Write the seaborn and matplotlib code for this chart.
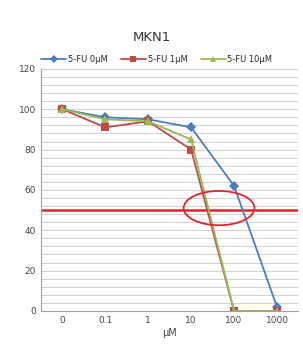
import pandas as pd
import matplotlib.pyplot as plt
import seaborn as sns
from matplotlib.patches import Ellipse

doses = ['0', '0.1', '1', '10', '100', '1000']
fu_0 = [100, 96, 95, 91, 62, 2]
fu_1 = [100, 91, 94, 80, 0, 0]
fu_10 = [100, 95, 94, 85, 0, 0]
series = ['5-FU 0µM', '5-FU 1µM', '5-FU 10µM']

rows = []
for name, vals in zip(series, [fu_0, fu_1, fu_10]):
    for i, v in enumerate(vals):
        rows.append({'pos': i, 'viability': v, 'series': name})
df = pd.DataFrame(rows)

sns.set_style('white')
plt.rcParams['font.family'] = ['DejaVu Sans']

fig = plt.figure(figsize=(3.03, 3.55), dpi=100)
ax = fig.add_axes([0.135, 0.124, 0.85, 0.682])

palette = {'5-FU 0µM': '#4a7ebb', '5-FU 1µM': '#be4b48', '5-FU 10µM': '#98b954'}
markers = {'5-FU 0µM': 'D', '5-FU 1µM': 's', '5-FU 10µM': '^'}
sns.lineplot(data=df, x='pos', y='viability', hue='series', style='series',
             palette=palette, markers=markers, dashes=False, sort=False,
             markersize=5.5, linewidth=1.3, markeredgewidth=0, ax=ax)

# gridlines every 4
for yv in range(4, 121, 4):
    ax.axhline(yv, color='#d0d0d0', lw=0.7, zorder=0)

ax.axhline(50, color='#d9262b', lw=1.8, zorder=1)
ax.add_patch(Ellipse((3.65, 51), 1.65, 17, fill=False, edgecolor='#e0262b', lw=1.3, zorder=5))

ax.set_xlim(-0.5, 5.5)
ax.set_ylim(0, 120)
ax.set_xticks(range(len(doses)))
ax.set_xticklabels(doses)
ax.set_yticks(range(0, 121, 20))
ax.tick_params(labelsize=6.5, length=0, colors='#444444')
ax.set_xlabel('µM', fontsize=7, color='#444444', labelpad=2)
ax.set_ylabel('')
for s in ['top', 'right']:
    ax.spines[s].set_visible(False)
ax.spines['left'].set_color('#a0a0a0')
ax.spines['bottom'].set_color('#a0a0a0')

ax.legend(loc='lower center', bbox_to_anchor=(0.45, 1.0), ncol=3, frameon=False,
          fontsize=6, handlelength=3.0, columnspacing=1.6, handletextpad=0.2,
          markerscale=0.8, borderaxespad=0.2)
fig.text(0.5, 0.895, 'MKN1', ha='center', va='center', fontsize=9.5, color='#333333')

fig.savefig('out.png', dpi=100)
